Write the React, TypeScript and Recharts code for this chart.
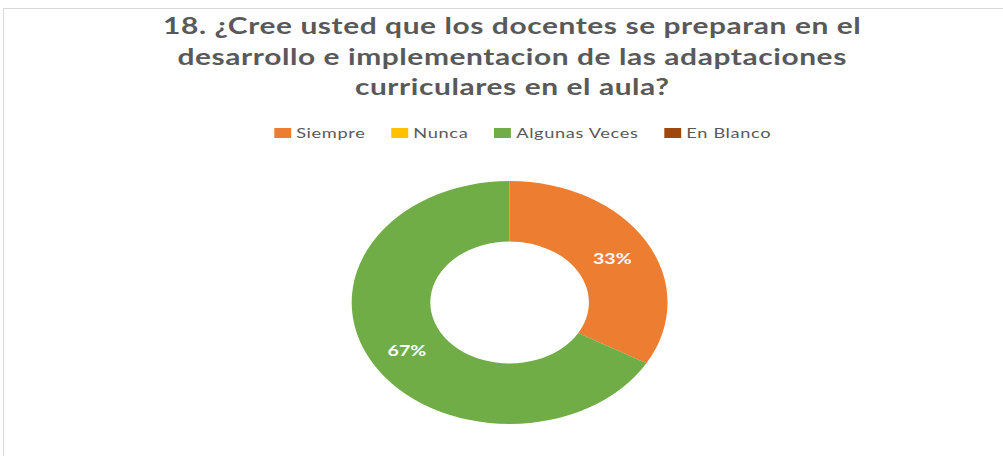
import React from 'react';
import { PieChart, Pie, Cell, Legend } from 'recharts';

const categories = ['Siempre', 'Nunca', 'Algunas Veces', 'En Blanco'];
const values = [1, 0, 2, 0];
const colors = ['#ED7D31', '#FFC000', '#70AD47', '#9E480E'];
const titleLines = [
  '18. ¿Cree usted que los docentes se preparan en el',
  'desarrollo e implementacion de las adaptaciones',
  'curriculares en el aula?',
];

const data = categories.map((name, i) => ({ name, value: values[i] }));

// the reference is stretched horizontally, so draw narrower and scale up
const SCALE = 1.3;
const W = 772;
const H = 456;
const RAD = Math.PI / 180;

const renderLabel = (props: any) => {
  const { cx, cy, midAngle, innerRadius, outerRadius, percent } = props;
  if (!percent) return null;
  const r = (innerRadius + outerRadius) / 2;
  const x = cx + r * Math.cos(-midAngle * RAD);
  const y = cy + r * Math.sin(-midAngle * RAD);
  return (
    <text
      x={x}
      y={y + 2}
      fill="#fff"
      textAnchor="middle"
      dominantBaseline="central"
      style={{ fontFamily: 'Lato', fontWeight: 700, fontSize: 15 }}
    >
      {`${Math.round(percent * 100)}%`}
    </text>
  );
};

const LegendContent = (props: any) => {
  const payload = [...(props.payload || [])].sort(
    (a: any, b: any) => categories.indexOf(a.value) - categories.indexOf(b.value)
  );
  return (
    <div style={{ display: 'flex', alignItems: 'center', fontFamily: 'Lato', fontSize: 14, letterSpacing: 0.5, color: '#595959' }}>
      {payload.map((entry: any, i: number) => (
        <div key={i} style={{ display: 'flex', alignItems: 'center', marginRight: 20 }}>
          <span style={{ display: 'inline-block', width: 12.8, height: 10, background: entry.color, marginRight: 4 }} />
          <span style={{ lineHeight: '14px' }}>{entry.value}</span>
        </div>
      ))}
    </div>
  );
};

export default function App() {
  return (
    <div style={{ position: 'absolute', left: 0, top: 0, width: 1003, height: 456, overflow: 'hidden', background: '#fff' }}>
      <div
        style={{
          position: 'absolute',
          left: 3,
          top: 8,
          width: 1100,
          height: 600,
          borderLeft: '1px solid #d9d9d9',
          borderTop: '1px solid #d9d9d9',
        }}
      />
      <div
        style={{
          position: 'absolute',
          left: 0,
          top: 0,
          width: W,
          height: H,
          transform: `scaleX(${SCALE})`,
          transformOrigin: '0 0',
        }}
      >
        <div
          style={{
            position: 'absolute',
            top: 10,
            left: 394 - 320,
            width: 640,
            textAlign: 'center',
            fontFamily: 'Lato',
            fontWeight: 700,
            fontSize: 23,
            letterSpacing: 0.45,
            lineHeight: '30.5px',
            color: '#595959',
          }}
        >
          {titleLines.map((t, i) => (
            <div key={i}>{t}</div>
          ))}
        </div>
        <PieChart width={W} height={H} margin={{ top: 0, right: 0, bottom: 0, left: 0 }}>
          <Legend
            content={<LegendContent />}
            wrapperStyle={{ position: 'absolute', top: 126, left: 211, width: 'auto' }}
          />
          <Pie
            data={data}
            dataKey="value"
            nameKey="name"
            cx={392}
            cy={302.5}
            innerRadius={61}
            outerRadius={121.5}
            startAngle={90}
            endAngle={-270}
            stroke="none"
            label={renderLabel}
            labelLine={false}
            isAnimationActive={false}
          >
            {data.map((d, i) => (
              <Cell key={d.name} fill={colors[i]} />
            ))}
          </Pie>
        </PieChart>
      </div>
    </div>
  );
}
